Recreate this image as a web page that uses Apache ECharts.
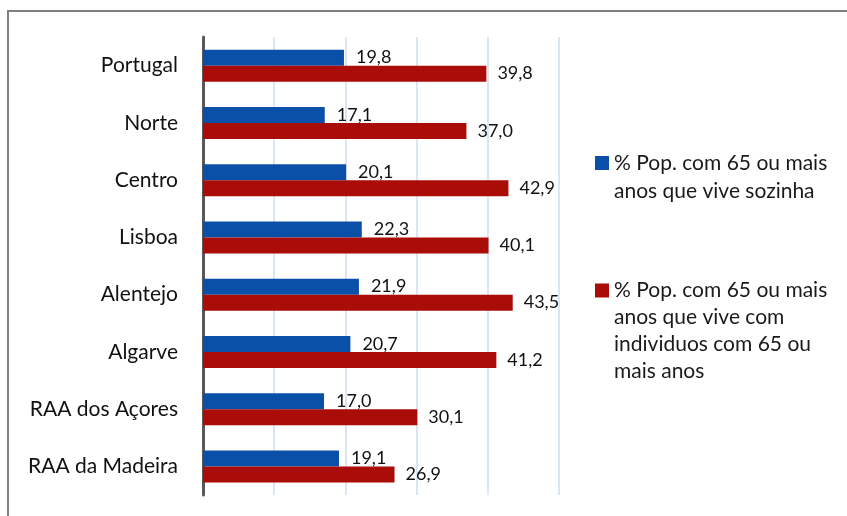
<!DOCTYPE html>
<html>
<head>
<meta charset="utf-8">
<script src="https://cdn.jsdelivr.net/npm/echarts@6/dist/echarts.min.js"></script>
<style>
  html, body { margin: 0; padding: 0; background: #fff; }
  #chart { width: 847px; height: 516px; }
</style>
</head>
<body>
<div id="chart"></div>
<script>
// regiões (de cima para baixo)
const regioes = ['Portugal', 'Norte', 'Centro', 'Lisboa', 'Alentejo', 'Algarve', 'RAA dos Açores', 'RAA da Madeira']
const sozinha = [19.8, 17.1, 20.1, 22.3, 21.9, 20.7, 17.0, 19.1]
const com65 = [39.8, 37.0, 42.9, 40.1, 43.5, 41.2, 30.1, 26.9]
const nomeSozinha = '% Pop. com 65 ou mais\nanos que vive sozinha'
const nomeCom65 = '% Pop. com 65 ou mais\nanos que vive com\nindividuos com 65 ou\nmais anos'

const fonte = 'Lato, "Open Sans", sans-serif'
const fmt = p => p.value.toFixed(1).replace('.', ',')
// linhas em branco por cima para o quadrado ficar na 1a linha
const alinhaTopo = name => '\n'.repeat(name.split('\n').length - 1) + name

const chart = echarts.init(document.getElementById('chart'))

const option = {
  animation: false,
  textStyle: { fontFamily: fonte },
  graphic: [{
    type: 'rect',
    shape: { x: 8, y: 11, width: 900, height: 600 },
    style: { fill: 'none', stroke: '#808080', lineWidth: 2 },
    z: 0
  }],
  legend: [
    {
      data: [nomeSozinha],
      orient: 'vertical',
      left: 590,
      top: 116,
      itemWidth: 14,
      itemHeight: 14,
      itemGap: 0,
      icon: 'rect',
      formatter: alinhaTopo,
      textStyle: { fontSize: 21, color: '#1a1a1a', lineHeight: 28 }
    },
    {
      data: [nomeCom65],
      orient: 'vertical',
      left: 590,
      top: 191,
      itemWidth: 14,
      itemHeight: 14,
      itemGap: 0,
      icon: 'rect',
      formatter: alinhaTopo,
      textStyle: { fontSize: 21, color: '#1a1a1a', lineHeight: 27 }
    }
  ],
  grid: {
    left: 203,
    right: 288,
    top: 37,
    bottom: 21,
    containLabel: false
  },
  xAxis: {
    type: 'value',
    min: 0,
    max: 50,
    interval: 10,
    axisLabel: { show: false },
    axisLine: { show: false },
    axisTick: { show: false },
    splitLine: { lineStyle: { color: '#dae5f6', width: 2 } }
  },
  yAxis: {
    type: 'category',
    data: regioes,
    inverse: true,
    axisLine: { lineStyle: { color: '#595959', width: 3 } },
    axisTick: { length: 6, lineStyle: { color: '#595959', width: 2 } },
    axisLabel: { fontSize: 21, color: '#111', margin: 25, padding: [3, 0, 0, 0] }
  },
  series: [
    {
      name: nomeSozinha,
      type: 'bar',
      data: sozinha,
      barWidth: 16,
      barGap: '0%',
      itemStyle: { color: '#0b50a8' },
      label: { show: true, position: 'right', distance: 12, fontSize: 18, color: '#111', formatter: fmt }
    },
    {
      name: nomeCom65,
      type: 'bar',
      data: com65,
      barWidth: 16,
      barGap: '0%',
      itemStyle: { color: '#aa0c08' },
      label: { show: true, position: 'right', distance: 11, fontSize: 18, color: '#111', formatter: fmt }
    }
  ]
}

chart.setOption(option)
window.addEventListener('resize', () => chart.resize())
</script>
</body>
</html>
